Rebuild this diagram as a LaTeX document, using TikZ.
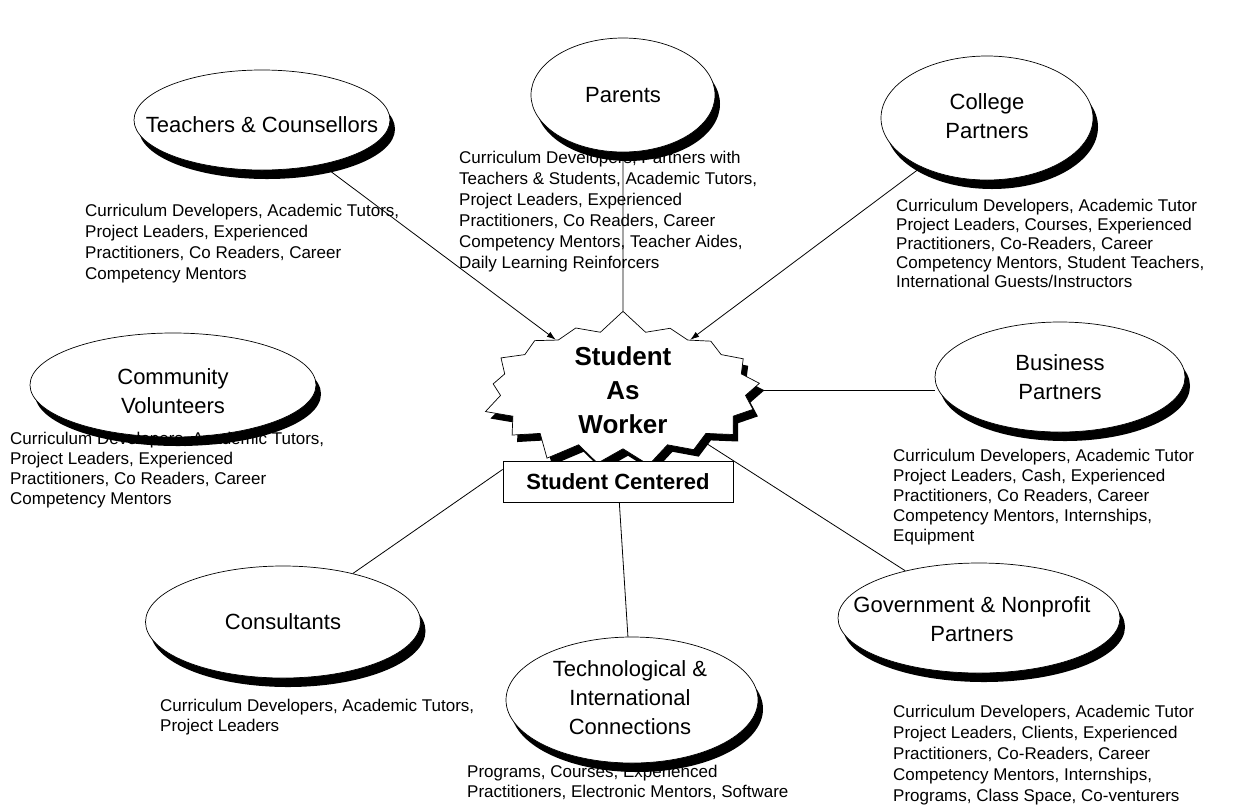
\documentclass[tikz,border=0pt]{standalone}
\usepackage{fontspec}
\setmainfont{Liberation Sans}
\usetikzlibrary{shapes.geometric,shapes.symbols,shadows,arrows.meta,calc}
\newcommand\labfont{\fontsize{22}{29}\selectfont}
\tikzset{
  oval/.style={ellipse, draw=black, line width=0.7pt, fill=white, inner sep=0pt,
    drop shadow={shadow xshift=5pt, shadow yshift=-9pt, fill=black, opacity=1}},
  lab/.style={align=center, inner sep=0pt, font=\labfont},
  desc/.style={anchor=north west, align=left, inner sep=0pt, font=\fontsize{17}{#1}\selectfont},
  desc/.default=20,
  conn/.style={draw=black, line width=0.8pt},
}
\begin{document}
\begin{tikzpicture}[x=1pt,y=-1pt]
\useasboundingbox[fill=white] (0,0) rectangle (1239,807);

% ovals
\node[oval, minimum width=256pt, minimum height=100pt] (teachers) at (262,120) {};
\node[oval, minimum width=184pt, minimum height=114pt] (parents) at (623,95) {};
\node[oval, minimum width=212pt, minimum height=124pt] (college) at (987,118) {};
\node[oval, minimum width=286pt, minimum height=104pt] (community) at (173,385) {};
\node[oval, minimum width=250pt, minimum height=110pt] (business) at (1060,377) {};
\node[oval, minimum width=275pt, minimum height=112pt] (consult) at (283,622) {};
\node[oval, minimum width=252pt, minimum height=126pt] (tech) at (632,700) {};
\node[oval, minimum width=282pt, minimum height=110pt] (gov) at (979,618) {};

% oval labels
\node[lab] (teacherslab) at (262,125) {Teachers \& Counsellors};
\node[lab] (parentslab) at (parents) {Parents};
\node[lab] (collegelab) at (987,116) {College\\Partners};
\node[lab] (communitylab) at (173,391) {Community\\Volunteers};
\node[lab] (businesslab) at (business) {Business\\Partners};
\node[lab] (consultlab) at (consult) {Consultants};
\node[lab] (techlab) at (630,698) {Technological \&\\International\\Connections};
\node[lab] (govlab) at (972,619) {Government \& Nonprofit\\Partners};

% centre
\node[starburst, draw=black, line width=0.7pt, fill=white, minimum width=290pt, minimum height=100pt,
  starburst points=17, starburst point height=22pt, random starburst=7,
  align=center, inner xsep=0pt, inner ysep=-2pt, font=\fontsize{26}{34}\selectfont\bfseries,
  drop shadow={shadow xshift=5pt, shadow yshift=-7pt, fill=black, opacity=1}]
  (star) at (623,390) {Student\\As\\Worker};
\node[draw=black, line width=0.8pt, fill=white, minimum width=230pt, minimum height=41pt, inner sep=0pt,
  font=\fontsize{22}{26}\selectfont\bfseries] (box) at (618,482) {Student Centered};

% connectors
\draw[conn, -{Latex[length=9pt,width=6pt]}] (teachers) -- (star);
\draw[conn] (parents) -- (star);
\draw[conn, -{Latex[length=9pt,width=6pt]}] (college) -- (star);
\draw[conn] (business.west |- star.east) -- (star.east);
\draw[conn] (star) -- (gov);
\draw[conn] (consult) -- ($(box.north west)!0.2!(box.south west)$);
\draw[conn] (box) -- (tech);

% descriptions
\node[desc=21] (teachersdesc) at (85,204) {Curriculum Developers, Academic Tutors,\\Project Leaders, Experienced\\Practitioners, Co Readers, Career\\Competency Mentors};
\node[desc=21] (parentsdesc) at (459,151) {Curriculum Developers, Partners with\\Teachers \& Students, Academic Tutors,\\Project Leaders, Experienced\\Practitioners, Co Readers, Career\\Competency Mentors, Teacher Aides,\\Daily Learning Reinforcers};
\node[desc=19] (collegedesc) at (896,199) {Curriculum Developers, Academic Tutor\\Project Leaders, Courses, Experienced\\Practitioners, Co-Readers, Career\\Competency Mentors, Student Teachers,\\International Guests/Instructors};
\node[desc=20] (communitydesc) at (10,432) {Curriculum Developers, Academic Tutors,\\Project Leaders, Experienced\\Practitioners, Co Readers, Career\\Competency Mentors};
\node[desc=20] (businessdesc) at (893,449) {Curriculum Developers, Academic Tutor\\Project Leaders, Cash, Experienced\\Practitioners, Co Readers, Career\\Competency Mentors, Internships,\\Equipment};
\node[desc=20] (consultdesc) at (160,699) {Curriculum Developers, Academic Tutors,\\Project Leaders};
\node[desc=20] (techdesc) at (467,765) {Programs, Courses, Experienced\\Practitioners, Electronic Mentors, Software};
\node[desc=21] (govdesc) at (893,705) {Curriculum Developers, Academic Tutor\\Project Leaders, Clients, Experienced\\Practitioners, Co-Readers, Career\\Competency Mentors, Internships,\\Programs, Class Space, Co-venturers};
\end{tikzpicture}
\end{document}
